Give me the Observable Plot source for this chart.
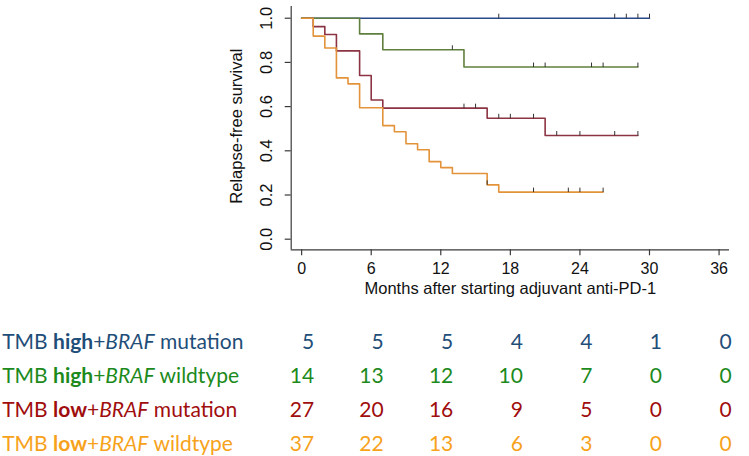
<!DOCTYPE html>
<html><head><meta charset="utf-8">
<script src="https://cdn.jsdelivr.net/npm/d3@7"></script>
<script src="https://cdn.jsdelivr.net/npm/@observablehq/plot@0.6"></script>
<style>
body{margin:0;background:#fff;}
#chart svg{display:block;}
</style></head><body><div id="chart"></div>
<script>
// ---- data ----
const groups = ["TMB high+BRAF mutation", "TMB high+BRAF wildtype", "TMB low+BRAF mutation", "TMB low+BRAF wildtype"];
const tmbLevel = ["high", "high", "low", "low"];
const brafStatus = ["mutation", "wildtype", "mutation", "wildtype"];
const lineColors = ["#2b4a8a", "#607f3e", "#8c3443", "#e3933a"];
const tableColors = ["#1f4e79", "#1c8a1c", "#a00d0d", "#f7a21b"];

// Kaplan-Meier step curves (time in months, survival)
const highMutTimes = [0, 30];
const highMutSurv = [1, 1];
const highMutCensor = [17, 27, 28, 29, 30];

const highWildTimes = [0, 5, 7, 14, 29];
const highWildSurv = [1, 0.929, 0.857, 0.779, 0.779];
const highWildCensor = [13, 20, 21, 25, 26, 29];

const lowMutTimes = [0, 1, 2, 3, 5, 6, 7, 16, 21, 29];
const lowMutSurv = [1, 0.962, 0.926, 0.852, 0.741, 0.630, 0.593, 0.547, 0.469, 0.469];
const lowMutCensor = [14, 15, 17, 18, 20, 22, 24, 27, 29];

const lowWildTimes = [0, 1, 2, 3, 4, 5, 7, 8, 9, 10, 11, 12, 13, 16, 17, 26];
const lowWildSurv = [1, 0.919, 0.865, 0.730, 0.703, 0.595, 0.514, 0.486, 0.432, 0.405, 0.351, 0.324, 0.297, 0.246, 0.213, 0.213];
const lowWildCensor = [16, 20, 23, 24, 26];

// numbers at risk
const riskTimes = [0, 6, 12, 18, 24, 30, 36];
const riskHighMut = [5, 5, 5, 4, 4, 1, 0];
const riskHighWild = [14, 13, 12, 10, 7, 0, 0];
const riskLowMut = [27, 20, 16, 9, 5, 0, 0];
const riskLowWild = [37, 22, 13, 6, 3, 0, 0];

const xTicks = [0, 6, 12, 18, 24, 30, 36];
const yTicks = [0, 0.2, 0.4, 0.6, 0.8, 1.0];
const xLabel = "Months after starting adjuvant anti-PD-1";
const yLabel = "Relapse-free survival";

// ---- build tables ----
const curveSets = [
  [highMutTimes, highMutSurv, highMutCensor],
  [highWildTimes, highWildSurv, highWildCensor],
  [lowMutTimes, lowMutSurv, lowMutCensor],
  [lowWildTimes, lowWildSurv, lowWildCensor]
];
const riskSets = [riskHighMut, riskHighWild, riskLowMut, riskLowWild];
const drawOrder = [0, 2, 1, 3];

const steps = [], censors = [];
for (const i of drawOrder) {
  const [times, surv, cens] = curveSets[i];
  times.forEach((t, k) => steps.push({group: groups[i], t, s: surv[k], color: lineColors[i]}));
  cens.forEach(c => {
    let s = surv[0];
    times.forEach((t, k) => { if (t <= c) s = surv[k]; });
    censors.push({group: groups[i], t: c, s});
  });
}
const riskCells = [];
groups.forEach((g, i) => riskTimes.forEach((t, j) => riskCells.push({group: g, t, n: riskSets[i][j], color: tableColors[i]})));
const rowLabels = groups.map((g, i) => ({group: g, color: tableColors[i]}));

// ---- layout ----
const X_LO = -0.9, X_HI = 36.9, Y_LO = -0.048, Y_HI = 1.053;
const AXIS = "#3a3a3a";
const ML = 290.7, MR = 20;
const censorSymbol = {draw(ctx) { ctx.moveTo(0, 0); ctx.lineTo(0, -4.5); }};

const main = Plot.plot({
  width: 749, height: 300,
  marginLeft: ML, marginRight: MR, marginTop: 6, marginBottom: 50.7,
  x: {domain: [X_LO, X_HI]},
  y: {domain: [Y_LO, Y_HI]},
  style: {fontFamily: "'Liberation Sans', Arial, sans-serif", fontSize: "16px", color: "#111", background: "white"},
  marks: [
    Plot.ruleY([Y_LO], {stroke: AXIS, strokeWidth: 1.2}),
    Plot.ruleX([X_LO], {stroke: AXIS, strokeWidth: 1.2}),
    Plot.axisX({ticks: xTicks, tickSize: 6, tickPadding: 7, fontSize: 16, label: null, stroke: AXIS, strokeWidth: 1.2}),
    Plot.axisY({ticks: yTicks, tickSize: 6, tickFormat: () => "", label: null, stroke: AXIS, strokeWidth: 1.2}),
    Plot.text(yTicks, {y: d => d, frameAnchor: "left", text: d => d.toFixed(1), rotate: -90, dx: -24.3, textAnchor: "middle", lineAnchor: "middle", fontSize: 16.5}),
    Plot.text([yLabel], {frameAnchor: "left", text: d => d, rotate: -90, dx: -54.2, dy: -2, textAnchor: "middle", lineAnchor: "middle", fontSize: 16.5}),
    Plot.text([xLabel], {frameAnchor: "bottom", text: d => d, dy: 38.7, textAnchor: "middle", lineAnchor: "middle", fontSize: 16.5}),
    Plot.line(steps, {x: "t", y: "s", z: "group", stroke: "color", strokeWidth: 1.6, curve: "step-after"}),
    Plot.dot(censors, {x: "t", y: "s", symbol: censorSymbol, stroke: "#333", strokeWidth: 1, fill: "none", r: 3})
  ]
});

const table = Plot.plot({
  width: 749, height: 156,
  marginLeft: ML, marginRight: MR, marginTop: 40.6, marginBottom: 11.4,
  x: {domain: [X_LO, X_HI], axis: null},
  y: {type: "point", domain: groups, padding: 0, axis: null},
  style: {fontFamily: "Lato, 'Open Sans', sans-serif", fontSize: "21px", background: "white"},
  marks: [
    Plot.text(riskCells, {x: "t", y: "group", text: d => String(d.n), fill: "color", textAnchor: "end", lineAnchor: "middle", dx: 12.5, fontSize: 21}),
    Plot.text(rowLabels, {y: "group", frameAnchor: "left", text: "group", fill: "color", textAnchor: "start", lineAnchor: "middle", dx: -289, fontSize: 21})
  ]
});

d3.select(table).selectAll("text").filter(function() { return this.textContent.startsWith("TMB"); }).each(function() {
  const i = groups.indexOf(this.textContent);
  const el = d3.select(this);
  el.text(null);
  el.append("tspan").text("TMB ");
  el.append("tspan").attr("font-weight", "bold").text(tmbLevel[i]);
  el.append("tspan").text("+");
  el.append("tspan").attr("font-style", "italic").text("BRAF");
  el.append("tspan").text(" " + brafStatus[i]);
});

const root = document.getElementById("chart");
root.appendChild(main);
root.appendChild(table);
</script></body></html>
